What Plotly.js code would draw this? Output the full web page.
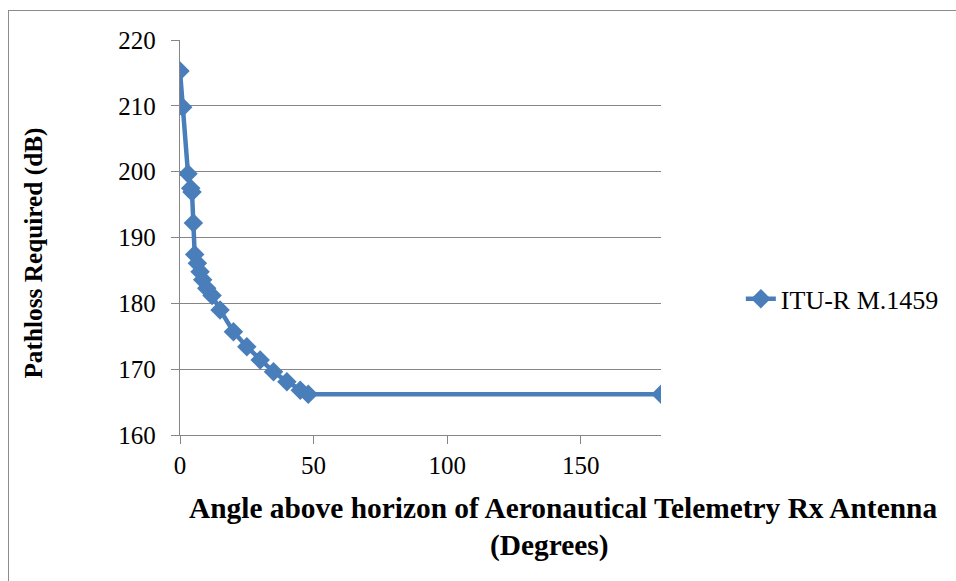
<!DOCTYPE html>
<html>
<head>
<meta charset="utf-8">
<script src="https://cdn.plot.ly/plotly-3.0.1.min.js"></script>
<style>
html,body{margin:0;padding:0;background:#fff;overflow:hidden;}
#frame{position:absolute;left:8px;top:10px;width:1000px;height:700px;border:1px solid #8c8c8c;box-sizing:border-box;pointer-events:none;}
#chart{position:absolute;left:0;top:0;width:956px;height:581px;}
</style>
</head>
<body>
<div id="chart"></div>
<div id="frame"></div>
<script>
const seriesName = "ITU-R M.1459";
const angleDeg = [0, 1, 3, 4, 4.5, 5, 5.5, 6.5, 7.5, 8.5, 10, 12, 15, 20, 25, 30, 35, 40, 45, 48, 180];
const pathlossDb = [215.3, 209.8, 199.7, 197.5, 196.9, 192.2, 187.4, 186.1, 184.8, 183.6, 182.3, 181.2, 179.0, 175.7, 173.4, 171.4, 169.6, 168.1, 166.8, 166.2, 166.2];
const xTitleLine1 = "Angle above horizon of Aeronautical Telemetry Rx Antenna";
const xTitleLine2 = "(Degrees)";
const yTitle = "Pathloss Required (dB)";

const FONT = "Liberation Serif";

const trace = {
  x: angleDeg, y: pathlossDb, name: seriesName,
  type: "scatter", mode: "lines+markers",
  line: {color: "#4a7ebb", width: 4.5},
  marker: {symbol: "diamond", size: 15, color: "#4a7ebb"}
};

const layout = {
  width: 956, height: 581,
  margin: {l: 180, r: 293, t: 40, b: 146},
  paper_bgcolor: "#fff", plot_bgcolor: "#fff",
  font: {family: FONT, size: 25, color: "#000"},
  showlegend: true,
  legend: {x: 1.166, xanchor: "left", y: 0.345, yanchor: "middle", font: {family: FONT, size: 26, color: "#000"}, bgcolor: "rgba(0,0,0,0)"},
  xaxis: {
    range: [0, 180], tickvals: [0, 50, 100, 150], ticktext: ["0", "50", "100", "150"],
    showgrid: false, zeroline: false, showline: true, linecolor: "#868686", linewidth: 1.3,
    ticks: "outside", ticklen: 8, tickcolor: "#868686", tickwidth: 1.3,
    tickfont: {family: FONT, size: 25, color: "#000"}, fixedrange: true
  },
  yaxis: {
    range: [160, 220], tickvals: [160, 170, 180, 190, 200, 210, 220],
    ticktext: ["160", "170", "180", "190", "200", "210", "220"],
    showgrid: true, gridcolor: "#868686", gridwidth: 1.3, zeroline: false,
    showline: true, linecolor: "#868686", linewidth: 1.3,
    ticks: "outside", ticklen: 8, tickcolor: "#868686", tickwidth: 1.3,
    tickfont: {family: FONT, size: 25, color: "#000"}, ticklabelstandoff: 10, fixedrange: true
  },
  annotations: [
    {text: "<b>" + xTitleLine1 + "</b>", xref: "paper", yref: "paper", x: 0.797, y: -0.14, xanchor: "center", yanchor: "top",
     showarrow: false, font: {family: FONT, size: 29.4, color: "#000"}},
    {text: "<b>" + xTitleLine2 + "</b>", xref: "paper", yref: "paper", x: 0.768, y: -0.232, xanchor: "center", yanchor: "top",
     showarrow: false, font: {family: FONT, size: 29.4, color: "#000"}},
    {text: "<b>" + yTitle + "</b>", xref: "paper", yref: "paper", x: -0.305, y: 0.46, xanchor: "center", yanchor: "middle",
     textangle: -90, showarrow: false, font: {family: FONT, size: 25.3, color: "#000"}}
  ]
};

Plotly.newPlot("chart", [trace], layout, {displayModeBar: false});
</script>
</body>
</html>
